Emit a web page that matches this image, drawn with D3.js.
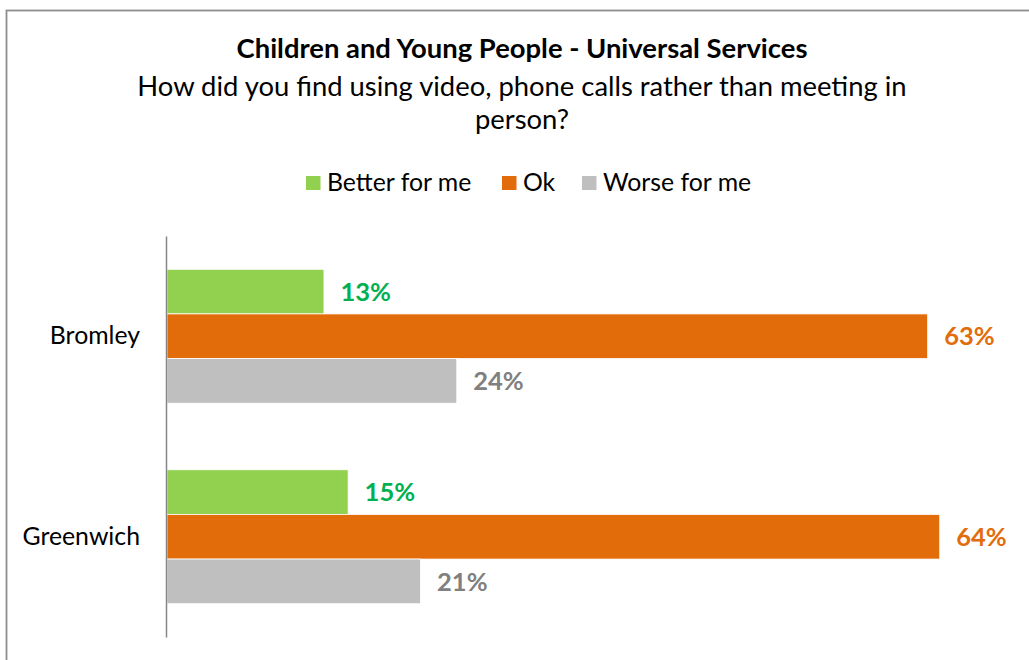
<!DOCTYPE html>
<html>
<head>
<meta charset="utf-8">
<script src="https://cdn.jsdelivr.net/npm/d3@7"></script>
<style>
  html, body { margin: 0; padding: 0; background: #ffffff; }
  svg { display: block; font-family: Lato, "Open Sans", sans-serif; }
</style>
</head>
<body>
<svg id="chart" width="1029" height="660"></svg>
<script>
// ---- data ----
const categories = ["Bromley", "Greenwich"];
const seriesNames = ["Better for me", "Ok", "Worse for me"];
const betterForMe = [13, 15];
const ok = [63, 64];
const worseForMe = [24, 21];
const seriesColors = ["#92D050", "#E36C0A", "#BFBFBF"];
const labelColors = ["#00B050", "#E36C0A", "#808080"];
const titleText = "Children and Young People - Universal Services";
const subtitleLines = ["How did you find using video, phone calls rather than meeting in", "person?"];

const seriesValues = [betterForMe, ok, worseForMe];
const rows = categories.map((c, i) => ({
  category: c,
  values: seriesNames.map((s, j) => ({ series: s, idx: j, value: seriesValues[j][i] }))
}));

const svg = d3.select("#chart");
const W = 1029, H = 660;

svg.append("rect").attr("width", W).attr("height", H).attr("fill", "#fff");
// outer chart border
svg.append("rect")
  .attr("x", 6.5).attr("y", 10.5).attr("width", W + 20).attr("height", H + 20)
  .attr("fill", "none").attr("stroke", "#8E8E8E").attr("stroke-width", 1.8);

// titles
svg.append("text").attr("x", 522).attr("y", 58).attr("text-anchor", "middle")
  .attr("font-weight", 700).attr("font-size", 27.4).attr("fill", "#000").text(titleText);
subtitleLines.forEach((t, i) => {
  svg.append("text").attr("x", 522).attr("y", 96 + i * 32.5).attr("text-anchor", "middle")
    .attr("font-size", 27.4).attr("fill", "#000").text(t);
});

// legend
const legendX = [306, 502, 582];
const legend = svg.append("g");
seriesNames.forEach((s, j) => {
  legend.append("rect").attr("x", legendX[j]).attr("y", 176).attr("width", 14.5).attr("height", 14)
    .attr("fill", seriesColors[j]);
  legend.append("text").attr("x", legendX[j] + 21).attr("y", 190.5)
    .attr("font-size", 24.8).attr("fill", "#000").text(s);
});

// scales
const x = d3.scaleLinear().domain([0, 100]).range([167, 167 + 1207.4]);
const y = d3.scaleBand().domain(categories).range([236, 637]).paddingInner(0.332).paddingOuter(0.166);
const ySub = d3.scaleBand().domain(seriesNames).range([0, y.bandwidth()]).padding(0);

// bars
const groups = svg.append("g").selectAll("g").data(rows).join("g")
  .attr("transform", d => `translate(0,${y(d.category)})`);

groups.selectAll("rect").data(d => d.values).join("rect")
  .attr("x", x(0))
  .attr("y", d => ySub(d.series))
  .attr("width", d => x(d.value) - x(0))
  .attr("height", ySub.bandwidth())
  .attr("fill", d => seriesColors[d.idx])
  .attr("stroke", "#fff").attr("stroke-width", 0.8);

groups.selectAll("text").data(d => d.values).join("text")
  .attr("x", d => x(d.value) + 16.5)
  .attr("y", d => ySub(d.series) + ySub.bandwidth() / 2)
  .attr("dy", "0.36em")
  .attr("font-weight", 700).attr("font-size", 25.5)
  .attr("fill", d => labelColors[d.idx])
  .text(d => d.value + "%");

// axis
const axis = d3.axisLeft(y).tickSize(0).tickPadding(26);
const ag = svg.append("g").attr("transform", `translate(166,0)`).call(axis);
ag.select(".domain").attr("stroke", "#868686").attr("stroke-width", 1.5);
ag.selectAll("text").attr("font-size", 24.8).attr("fill", "#000")
  .attr("font-family", "Lato, 'Open Sans', sans-serif");
</script>
</body>
</html>
